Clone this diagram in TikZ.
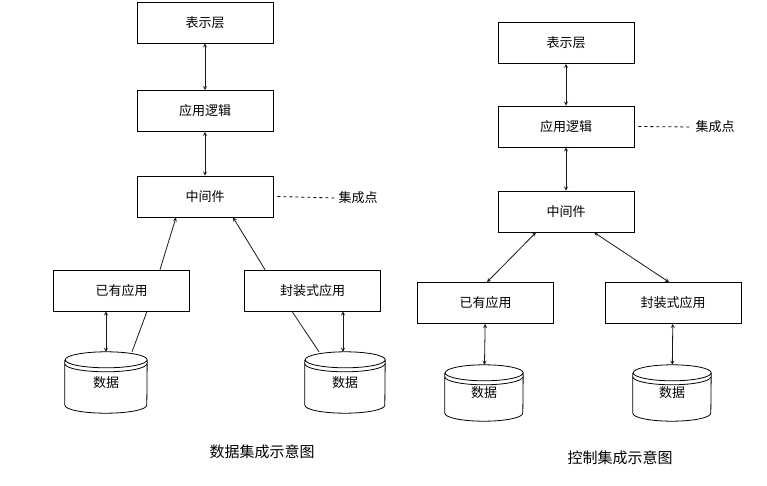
\documentclass[tikz,border=0pt]{standalone}
\usepackage{fontspec}
\setmainfont{Noto Sans CJK SC}
\usetikzlibrary{positioning,calc}
\tikzset{>=stealth,
  box/.style={draw, thick, minimum width=136pt, minimum height=41pt, inner sep=0pt, font=\fontsize{13pt}{15pt}\selectfont},
  link/.style={thick, gray!20!black},
  both/.style={link, <->},
  lbl/.style={font=\fontsize{13pt}{15pt}\selectfont},
  caption/.style={font=\fontsize{15pt}{18pt}\selectfont}}
% database: name, centre x, top y, width, height
\newcommand\dbase[5]{%
  \node[minimum width=#4pt, minimum height=#5pt, inner sep=0pt, lbl] (#1) at (#2,{#3+#5/2}) {\raisebox{-6pt}{数据}};
  \draw[thick] ($(#1.north west)+(0,8)$) -- ($(#1.south west)+(0,-8)$)
    arc[start angle=180, end angle=360, x radius=#4pt/2, y radius=8pt]
    -- ($(#1.north east)+(0,8)$)
    arc[start angle=0, end angle=360, x radius=#4pt/2, y radius=8pt];
  \draw[thick] ($(#1.north west)+(0,12)$)
    arc[start angle=180, end angle=360, x radius=#4pt/2, y radius=8pt];}

\begin{document}
\begin{tikzpicture}[x=1pt, y=-1pt]
  \useasboundingbox (0,0) rectangle (767,486);

  % data integration
  \node[box] (pres1) at (205,22.5) {表示层};
  \node[box] (logic1) at (205,111) {应用逻辑};
  \node[box] (mid1) at (205,196.5) {中间件};
  \node[box] (old1) at (121.5,290.5) {已有应用};
  \node[box] (wrap1) at (312.5,290.5) {封装式应用};
  \dbase{db1a}{106}{352}{82}{61}
  \dbase{db1b}{345}{352}{80}{61}
  \node[lbl] (ip1) at (358,198) {集成点};
  \draw[thick, dashed] (mid1.east) ++(4,0) -- (ip1.west);

  \draw[both] (pres1) -- (logic1);
  \draw[both] (logic1) -- (mid1);
  \draw[link, ->] ([xshift=38.5]old1.north) -- ([xshift=-29]mid1.south);
  \draw[link, ->] ([xshift=-47.5]wrap1.north) -- ([xshift=28]mid1.south);
  \draw[both] ([xshift=-15.5]old1.south) -- ([xshift=0]db1a.north);
  \draw[link] ([xshift=25.5]old1.south) -- ([xshift=26]db1a.north);
  \draw[both] ([xshift=30.5]wrap1.south) -- ([xshift=-2]db1b.north);
  \draw[link] ([xshift=-20.5]wrap1.south) -- ([xshift=-26]db1b.north);
  \node[caption] (cap1) at (262,452) {数据集成示意图};

  % control integration
  \node[box] (pres2) at (566,43) {表示层};
  \node[box] (logic2) at (566,126.5) {应用逻辑};
  \node[box] (mid2) at (566,211.5) {中间件};
  \node[box] (old2) at (485.5,303) {已有应用};
  \node[box] (wrap2) at (673,303) {封装式应用};
  \dbase{db2a}{484}{365}{78}{56}
  \dbase{db2b}{672}{365}{78}{56}
  \node[lbl] (ip2) at (715,127) {集成点};
  \draw[thick, dashed] (logic2.east) ++(4,0) -- (ip2.west);

  \draw[both] (pres2) -- (logic2);
  \draw[both] (logic2) -- (mid2);
  \draw[both] ([xshift=-30]mid2.south) -- ([xshift=1.5]old2.north);
  \draw[both] ([xshift=28]mid2.south) -- ([xshift=-4]wrap2.north);
  \draw[both] (old2) -- (db2a);
  \draw[both] (wrap2) -- (db2b);
  \node[caption] (cap2) at (620,458) {控制集成示意图};
\end{tikzpicture}
\end{document}
